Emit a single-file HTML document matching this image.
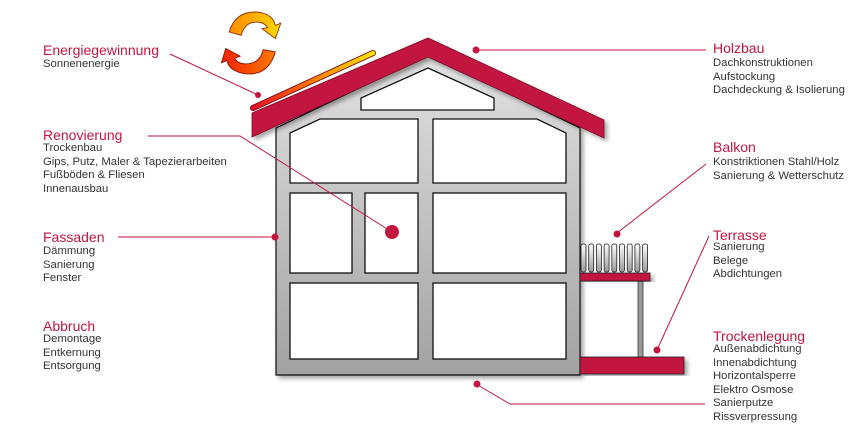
<!DOCTYPE html>
<html><head><meta charset="utf-8"><style>
html,body{margin:0;padding:0;background:#fff;width:866px;height:440px;overflow:hidden;font-family:"Liberation Sans",Arial,sans-serif}
.t{position:absolute;white-space:nowrap}
.h{color:#c2163f;font-size:14px;line-height:16px}
.b{color:#333;font-size:11.3px;line-height:13.6px}
</style></head><body>
<svg width="866" height="440" style="position:absolute;left:0;top:0">
<defs>
<linearGradient id="g" x1="0" y1="0" x2="0" y2="1"><stop offset="0" stop-color="#e2e2e2"/><stop offset="1" stop-color="#a2a2a2"/></linearGradient>
<linearGradient id="rg" x1="0" y1="0" x2="1" y2="0"><stop offset="0" stop-color="#e8102a"/><stop offset="0.5" stop-color="#ff7a00"/><stop offset="1" stop-color="#ffe400"/></linearGradient>
<linearGradient id="ar1" x1="0" y1="0" x2="1" y2="0"><stop offset="0" stop-color="#ff8a00"/><stop offset="1" stop-color="#ffd800"/></linearGradient>
<linearGradient id="ar2" x1="0" y1="0" x2="1" y2="0"><stop offset="0" stop-color="#f02000"/><stop offset="1" stop-color="#ff7a00"/></linearGradient>
<linearGradient id="sl" x1="0" y1="0" x2="0" y2="1"><stop offset="0" stop-color="#fff"/><stop offset="1" stop-color="#999"/></linearGradient>
<filter id="sh"><feDropShadow dx="3" dy="3" stdDeviation="2" flood-color="#000" flood-opacity="0.35"/></filter>
</defs>
<polygon points="276,375 276,128 428,55 580,128 580,375" fill="url(#g)" stroke="#111" stroke-width="1.2" filter="url(#sh)"/>
<g fill="#fff" stroke="#111" stroke-width="1.3">
<polygon points="361,110 361,98 428,68 494,98 494,110"/>
<polygon points="290,183 290,133 320,119 418,119 418,183"/>
<polygon points="433,183 433,119 537,119 566,133 566,183"/>
<rect x="290" y="193" width="62" height="80"/>
<rect x="365" y="193" width="53" height="80"/>
<rect x="433" y="193" width="133" height="80"/>
<rect x="290" y="283" width="128" height="76"/>
<rect x="433" y="283" width="133" height="76"/>
</g>
<polygon points="252,113 428,38 604,120 604,138 428,57 252,137" fill="#c2163f" stroke="#7a0a25" stroke-width="0.8" filter="url(#sh)"/>
<line x1="253" y1="108" x2="373" y2="53" stroke="#6a0010" stroke-width="6" stroke-linecap="round"/>
<line x1="253" y1="108" x2="373" y2="53" stroke="url(#rg)" stroke-width="4.5" stroke-linecap="round"/>
<g transform="translate(250,43) scale(1.1) translate(-250,-43)">
<path d="M231,33 Q237,13 258,15 Q271,17 273,27 L278,25 L273,39 L261,30 L266,29 Q263,24 256,24 Q245,24 242,36 Z" fill="url(#ar1)" stroke="#8a3000" stroke-width="0.8"/>
<path d="M273,51 Q267,73 246,71 Q231,69 229,59 L224,61 L228,48 L241,55 L236,57 Q239,62 246,62 Q259,62 262,49 Z" fill="url(#ar2)" stroke="#8a1000" stroke-width="0.8"/>
</g>
<g stroke="#222" stroke-width="0.8" fill="url(#sl)">
<rect x="581" y="244" width="5" height="28" rx="2"/><rect x="588.7" y="244" width="5" height="28" rx="2"/><rect x="596.4" y="244" width="5" height="28" rx="2"/><rect x="604.1" y="244" width="5" height="28" rx="2"/><rect x="611.8" y="244" width="5" height="28" rx="2"/><rect x="619.5" y="244" width="5" height="28" rx="2"/><rect x="627.2" y="244" width="5" height="28" rx="2"/><rect x="634.9" y="244" width="5" height="28" rx="2"/><rect x="642.6" y="244" width="5" height="28" rx="2"/>
</g>
<rect x="638" y="281" width="5" height="77" fill="#999" stroke="#333" stroke-width="0.8"/>
<rect x="580" y="273" width="70" height="8" fill="#c2163f" stroke="#222" stroke-width="0.8" filter="url(#sh)"/>
<rect x="580" y="357" width="104" height="17" fill="#c2163f" stroke="#222" stroke-width="0.8" filter="url(#sh)"/>
<g stroke="#c2163f" stroke-width="1" fill="none">
<polyline points="170,54 258,95"/>
<polyline points="148,136 240,136 392,232"/>
<polyline points="118,237 276,237"/>
<polyline points="476,50 706,50"/>
<polyline points="706,164 617,233"/>
<polyline points="709,236 657,350"/>
<polyline points="476,384 510,404 705,404"/>
</g>
<g fill="#c2163f">
<circle cx="258" cy="95" r="3"/><circle cx="392" cy="232" r="7"/><circle cx="275" cy="237" r="3.5"/><circle cx="476" cy="50" r="3.5"/><circle cx="617" cy="234" r="3.5"/><circle cx="657" cy="350" r="3.5"/><circle cx="477" cy="384" r="3.5"/>
</g>
</svg>
<div class="t h" style="left:43px;top:42px">Energiegewinnung</div>
<div class="t b" style="left:43px;top:58px">Sonnenenergie</div>
<div class="t h" style="left:43px;top:127px">Renovierung</div>
<div class="t b" style="left:43px;top:142px">Trockenbau<br>Gips, Putz, Maler &amp; Tapezierarbeiten<br>Fußböden &amp; Fliesen<br>Innenausbau</div>
<div class="t h" style="left:43px;top:229px">Fassaden</div>
<div class="t b" style="left:43px;top:245px">Dämmung<br>Sanierung<br>Fenster</div>
<div class="t h" style="left:43px;top:318px">Abbruch</div>
<div class="t b" style="left:43px;top:333px">Demontage<br>Entkernung<br>Entsorgung</div>
<div class="t h" style="left:713px;top:40px">Holzbau</div>
<div class="t b" style="left:713px;top:57px">Dachkonstruktionen<br>Aufstockung<br>Dachdeckung &amp; Isolierung</div>
<div class="t h" style="left:713px;top:139px">Balkon</div>
<div class="t b" style="left:713px;top:156px">Konstriktionen Stahl/Holz<br>Sanierung &amp; Wetterschutz</div>
<div class="t h" style="left:713px;top:227px">Terrasse</div>
<div class="t b" style="left:713px;top:241px">Sanierung<br>Belege<br>Abdichtungen</div>
<div class="t h" style="left:713px;top:328px">Trockenlegung</div>
<div class="t b" style="left:713px;top:343px">Außenabdichtung<br>Innenabdichtung<br>Horizontalsperre<br>Elektro Osmose<br>Sanierputze<br>Rissverpressung</div>
</body></html>
